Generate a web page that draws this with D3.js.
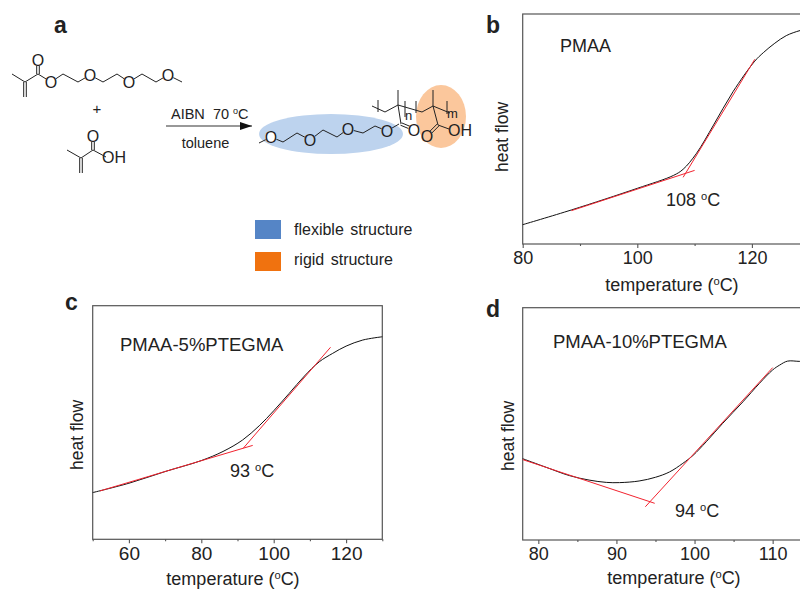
<!DOCTYPE html>
<html>
<head>
<meta charset="utf-8">
<script src="https://cdn.jsdelivr.net/npm/d3@7"></script>
<style>
  html, body { margin: 0; padding: 0; background: #fff; }
  svg { display: block; }
  text { font-family: "Liberation Sans", Arial, sans-serif; fill: #222; white-space: pre; }
</style>
</head>
<body>
<div id="chart"></div>
<script>
// --- Data ---
// heat flow has no units on the figure, so y is 0-100 of the frame height
const tempB = [80, 88.5, 100, 106.3, 108, 110.3, 113.3, 116.7, 120.5, 122, 124, 126, 128.4, 130];
const flowB = [8.4, 14.8, 24.2, 29.8, 32.5, 39.3, 51.7, 66.2, 79.5, 83.2, 87.3, 90.6, 92.8, 93.6];
const tangentsB = [[[88.5, 14.5], [110, 32]], [[120.5, 80.3], [108, 29]]];

const tempC = [50, 60, 70, 80, 86, 91.4, 96, 100, 104.3, 108.5, 112.6, 116.3, 120, 124.6, 130];
const flowC = [20, 24, 29, 33.7, 37.6, 42.5, 48.6, 55, 62.5, 69.9, 76, 79.6, 82.7, 85.3, 86.7];
const tangentsC = [[[52, 20.7], [94.2, 40.2]], [[115.7, 82.2], [91.6, 39]]];

const tempD = [78, 81, 84, 86.5, 88.7, 90.4, 92.9, 95, 96.8, 98.5, 99.8, 101.5, 103.6, 106.2, 108.3, 110, 110.9, 111.9, 113.4, 115];
const flowD = [35, 31.3, 27.7, 25.8, 24.8, 24.7, 25.4, 27, 29.3, 33, 36.4, 42.3, 50.2, 59.5, 67.4, 73.2, 75.3, 77, 76.9, 76.9];
const tangentsD = [[[78, 34.6], [94.9, 15.8]], [[110, 74.2], [93.7, 14.3]]];

const ticksB = [80, 100, 120];
const minorB = [90, 110, 130];
const ticksC = [60, 80, 100, 120];
const minorC = [50, 70, 90, 110, 130];
const ticksD = [80, 90, 100, 110];
const minorD = [85, 95, 105, 115];

// --- Scheme (panel a) bond lists, in picture pixels ---
const monomerChain = [[51, 82], [63, 74], [78, 82], [90, 75], [103, 82], [117, 74], [129, 82], [142, 74], [156, 82], [168, 75], [182, 82]];
const monomerHead = [[12, 74], [25, 82], [38, 74], [51, 82]];
const monomerDouble = [[[25, 82], [25, 97]], [[38, 74], [38, 60]]];
const monomerOxygens = [[51, 82], [90, 75], [129, 82], [168, 75], [38, 60]];

const acidHead = [[67, 150], [81, 158], [93, 150], [106, 157]];
const acidDouble = [[[81, 158], [81, 173]], [[93, 150], [93, 136]]];
const acidOxygens = [[93, 136]];

const productChain = [[259, 143], [271, 137], [283, 142], [297, 133], [310, 140], [323, 130], [337, 137], [348, 129], [363, 133], [375, 126], [387, 131], [399, 124]];
const backbone = [[372, 106], [385, 112], [398, 105], [422, 112], [433, 106], [450, 113]];
const productBonds = [
  [[398, 105], [398, 90]], [[433, 106], [433, 90]],
  [[398, 105], [401, 124]], [[433, 106], [438, 125]],
  [[378, 100], [378, 112]], [[405, 101], [405, 117]],
  [[416, 101], [416, 113]], [[447, 101], [447, 114]]
];
const productDouble = [[[401, 124], [413, 129]], [[438, 125], [427, 136]]];
const productAcidBond = [[438, 125], [449, 129]];
const productOxygens = [[271, 137], [310, 140], [348, 129], [387, 131], [414, 130], [427, 136]];

const legendLabels = ['flexible structure', 'rigid structure'];
const legendColors = ['#5585c6', '#f0720f'];

const width = 800;
const height = 589;
const axisColor = '#555';
const curveColor = '#111';
const tangentColor = '#f2232f';

const svg = d3.select('#chart').append('svg')
    .attr('width', width)
    .attr('height', height);

// --- Helpers ---
function addLabel(x, y, str, size, opts = {}) {
    return svg.append('text')
        .attr('x', x)
        .attr('y', y)
        .attr('font-size', size)
        .attr('font-weight', opts.bold ? 'bold' : null)
        .attr('text-anchor', opts.anchor || 'start')
        .attr('word-spacing', opts.wordSpacing || null)
        .text(str);
}

// text with a raised "o" for the degree mark, as in the original figure
function addDegree(x, y, before, after, size, anchor) {
    const t = svg.append('text')
        .attr('x', x)
        .attr('y', y)
        .attr('font-size', size)
        .attr('text-anchor', anchor || 'start');
    t.append('tspan').text(before);
    t.append('tspan').attr('font-size', size * 0.62).attr('dy', -size * 0.36).text('o');
    t.append('tspan').attr('dy', size * 0.36).text(after);
}

function drawPanel(p) {
    const x = d3.scaleLinear().domain(p.xDomain).range([p.left, p.right]);
    const y = d3.scaleLinear().domain([0, 100]).range([p.bottom, p.top]);
    const g = svg.append('g');

    g.append('rect')
        .attr('x', p.left).attr('y', p.top)
        .attr('width', p.right - p.left).attr('height', p.bottom - p.top)
        .attr('fill', 'none')
        .attr('stroke', axisColor)
        .attr('stroke-width', 1.2);

    const major = d3.axisBottom(x).tickValues(p.ticks).tickSize(4).tickPadding(p.tickPad).tickFormat(d3.format('d'));
    const minor = d3.axisBottom(x).tickValues(p.minor).tickSize(2).tickFormat('');
    [major, minor].forEach(a => {
        const ax = g.append('g').attr('transform', `translate(0,${p.bottom})`).call(a);
        ax.select('.domain').remove();
        ax.selectAll('line').attr('stroke', axisColor).attr('stroke-width', 1.1);
        ax.selectAll('text')
            .attr('font-size', p.tickSize)
            .attr('font-family', '"Liberation Sans", Arial, sans-serif')
            .attr('fill', '#222');
    });

    const line = d3.line().x(d => x(d[0])).y(d => y(d[1])).curve(d3.curveCatmullRom.alpha(0.5));
    g.append('path')
        .datum(d3.zip(p.temp, p.flow))
        .attr('d', line)
        .attr('fill', 'none')
        .attr('stroke', curveColor)
        .attr('stroke-width', 1);

    g.selectAll('.tangent')
        .data(p.tangents)
        .join('path')
        .attr('class', 'tangent')
        .attr('d', d3.line().x(d => x(d[0])).y(d => y(d[1])))
        .attr('fill', 'none')
        .attr('stroke', tangentColor)
        .attr('stroke-width', 1);

    addLabel(p.nameX, p.nameY, p.name, p.nameSize);
    addDegree(p.tgX, p.tgY, p.tg + ' ', 'C', 18);
    addDegree(p.titleX, p.titleY, 'temperature (', 'C)', 18, 'middle');
    svg.append('text')
        .attr('transform', `translate(${p.flowX},${p.flowY}) rotate(-90)`)
        .attr('font-size', 17.5)
        .attr('text-anchor', 'middle')
        .text('heat flow');
}

// --- Panels b, c, d ---
drawPanel({
    temp: tempB, flow: flowB, tangents: tangentsB, ticks: ticksB, minor: minorB,
    xDomain: [80, 130], left: 522.7, right: 809.2, top: 14, bottom: 244,
    tickSize: 18, tickPad: 3, name: 'PMAA', nameSize: 18, nameX: 560, nameY: 52,
    tg: '108', tgX: 666, tgY: 206, titleX: 672, titleY: 291, flowX: 508, flowY: 137
});
drawPanel({
    temp: tempC, flow: flowC, tangents: tangentsC, ticks: ticksC, minor: minorC,
    xDomain: [50, 130], left: 92.7, right: 382.3, top: 305.7, bottom: 539.3,
    tickSize: 19, tickPad: 3, name: 'PMAA-5%PTEGMA', nameSize: 18.5, nameX: 120, nameY: 351,
    tg: '93', tgX: 230, tgY: 477, titleX: 233, titleY: 585, flowX: 83, flowY: 435
});
drawPanel({
    temp: tempD, flow: flowD, tangents: tangentsD, ticks: ticksD, minor: minorD,
    xDomain: [78, 115], left: 522.7, right: 811.7, top: 307.7, bottom: 540,
    tickSize: 18, tickPad: 3, name: 'PMAA-10%PTEGMA', nameSize: 18.5, nameX: 553, nameY: 348,
    tg: '94', tgX: 675, tgY: 517, titleX: 674, titleY: 584, flowX: 514, flowY: 436
});

// --- Panel a: reaction scheme ---
addLabel(54, 33, 'a', 23, { bold: true });
addLabel(486, 33, 'b', 23, { bold: true });
addLabel(65, 310, 'c', 23, { bold: true });
addLabel(486, 317, 'd', 23, { bold: true });

svg.append('ellipse').attr('cx', 331).attr('cy', 134).attr('rx', 72).attr('ry', 20).attr('fill', '#bdd3ee');
svg.append('ellipse').attr('cx', 441).attr('cy', 116.5).attr('rx', 25).attr('ry', 31.5).attr('fill', '#fbc79c');

const bondLine = d3.line();
const bonds = svg.append('g').attr('fill', 'none').attr('stroke', '#222').attr('stroke-width', 1);

function drawBonds(chains) {
    chains.forEach(c => bonds.append('path').attr('d', bondLine(c)));
}
// two parallel strokes for a double bond
function drawDouble(pairs) {
    pairs.forEach(([a, b]) => {
        const dx = b[0] - a[0], dy = b[1] - a[1], len = Math.hypot(dx, dy);
        const nx = -dy / len * 1.3, ny = dx / len * 1.3;
        drawBonds([[[a[0] + nx, a[1] + ny], [b[0] + nx, b[1] + ny]],
                   [[a[0] - nx, a[1] - ny], [b[0] - nx, b[1] - ny]]]);
    });
}

drawBonds([monomerChain, monomerHead, acidHead, productChain, backbone, productAcidBond]);
drawBonds(productBonds);
drawDouble(monomerDouble);
drawDouble(acidDouble);
drawDouble(productDouble);

// oxygen labels sit on a white (or tinted) knock-out so the bond stops short of them
function drawOxygens(points, fill) {
    points.forEach(([px, py], i) => {
        svg.append('circle').attr('cx', px).attr('cy', py).attr('r', 6)
            .attr('fill', Array.isArray(fill) ? fill[i] : fill);
        addLabel(px, py + 5.7, 'O', 16, { anchor: 'middle' });
    });
}
drawOxygens(monomerOxygens, '#fff');
drawOxygens(acidOxygens, '#fff');
drawOxygens(productOxygens, ['#fff', '#bdd3ee', '#bdd3ee', '#bdd3ee', '#fff', '#fbc79c']);

addLabel(102, 163, 'OH', 16);
addLabel(448, 136, 'OH', 16);
addLabel(405, 120, 'n', 13);
addLabel(447, 118, 'm', 13);
addLabel(97, 114, '+', 15, { anchor: 'middle' });

// reaction arrow
svg.append('defs').append('marker')
    .attr('id', 'head').attr('viewBox', '0 0 12 8').attr('refX', 12).attr('refY', 4)
    .attr('markerWidth', 12).attr('markerHeight', 8).attr('markerUnits', 'userSpaceOnUse').attr('orient', 'auto')
    .append('path').attr('d', 'M0,0L12,4L0,8Z').attr('fill', '#111');
svg.append('line')
    .attr('x1', 166).attr('y1', 126).attr('x2', 252).attr('y2', 126)
    .attr('stroke', '#333').attr('stroke-width', 1.2)
    .attr('marker-end', 'url(#head)');
addDegree(171, 119, 'AIBN  70 ', 'C', 14.5);
addLabel(205.5, 148, 'toluene', 14.5, { anchor: 'middle' });

// legend
const legend = svg.append('g');
legendLabels.forEach((label, i) => {
    legend.append('rect')
        .attr('x', 255).attr('y', 220 + i * 32)
        .attr('width', 26).attr('height', 19)
        .attr('fill', legendColors[i]);
    addLabel(294, 235 + i * 30, label, 16, { wordSpacing: 2 });
});
</script>
</body>
</html>
